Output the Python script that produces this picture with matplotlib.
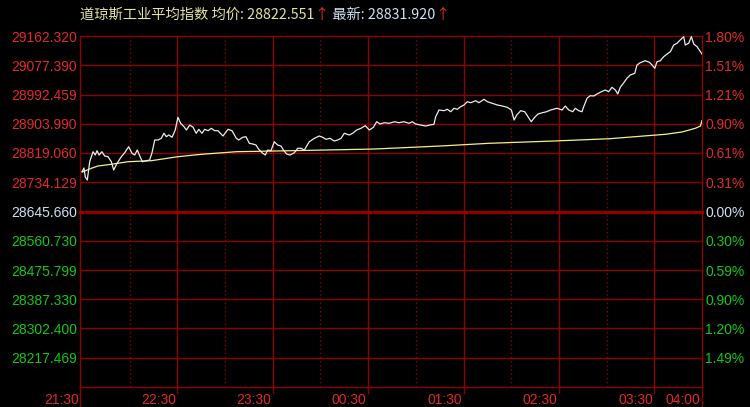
import numpy as np
import matplotlib.pyplot as plt

# minutes after 21:30 and index value (white line)
price_min = [0.1, 1.3, 2.1, 3.4, 4.9, 7.0, 8.4, 9.5, 10.8, 12.6, 14.3, 16.4, 18.5, 20.0, 22.1,
             24.8, 26.9, 29.4, 31.5, 33.2, 34.8, 36.4, 38.0, 40.5, 42.6, 44.1, 45.8, 47.9, 49.9,
             51.6, 53.1, 54.6, 56.7, 58.7, 60.4, 62.1, 64.2, 65.7, 67.8, 69.9, 71.9, 73.5, 75.5,
             77.2, 79.3, 81.4, 83.5, 85.6, 88.7, 91.9, 94.4, 97.1, 98.6, 101.1, 103.2, 105.3,
             107.4, 109.5, 111.2, 113.3, 115.3, 116.9, 118.9, 121.0, 123.1, 125.2, 126.7, 128.8,
             130.9, 133.6, 135.7, 137.8, 139.9, 143.0, 146.2, 149.3, 151.4, 153.5, 156.0, 158.7,
             160.9, 163.0, 165.0, 168.2, 170.3, 172.8, 175.5, 178.2, 180.8, 183.3, 185.4, 187.5,
             190.2, 193.3, 196.5, 199.4, 202.6, 205.7, 207.8, 209.9, 213.1, 216.2, 218.9, 221.4,
             222.5, 224.6, 227.7, 229.8, 232.0, 234.0, 236.1, 238.2, 240.3, 242.4, 244.5, 247.7,
             249.7, 252.9, 255.0, 258.1, 261.3, 264.4, 267.5, 270.1, 271.8, 273.5, 276.0, 278.5,
             281.2, 282.6, 284.8, 286.9, 289.6, 292.3, 294.8, 296.5, 298.8, 302.0, 304.0, 306.2,
             308.7, 310.3, 312.5, 314.5, 315.6, 317.7, 319.7, 321.9, 324.0, 326.7, 329.2, 331.3,
             333.4, 335.5, 337.0, 338.6, 340.8, 342.8, 344.9, 347.7, 349.1, 351.2, 354.3, 356.9,
             358.6, 360.3, 361.7, 363.8, 365.9, 368.0, 370.1, 372.2, 374.3, 376.3, 378.5, 379.5,
             381.6, 383.3, 384.8, 386.9, 389.0, 390.0]
price = [28762.8, 28773.7, 28747.2, 28738.4, 28792.3, 28821.7, 28812.0, 28824.6, 28812.0, 28821.7,
         28809.0, 28807.0, 28792.3, 28767.8, 28787.5, 28807.0, 28818.7, 28836.4, 28817.0, 28812.0,
         28826.7, 28809.0, 28792.3, 28795.2, 28797.3, 28818.7, 28856.1, 28856.1, 28861.1, 28875.9,
         28865.8, 28870.9, 28864.1, 28885.6, 28923.0, 28905.3, 28895.3, 28885.6, 28900.3, 28893.5,
         28875.9, 28887.6, 28875.9, 28887.6, 28883.5, 28890.6, 28883.5, 28883.5, 28867.9, 28887.6,
         28883.5, 28861.1, 28856.1, 28864.1, 28865.8, 28846.4, 28844.4, 28841.4, 28828.8, 28818.7,
         28812.0, 28826.7, 28824.6, 28851.1, 28841.4, 28838.5, 28826.7, 28814.9, 28812.0, 28818.7,
         28831.7, 28831.7, 28826.7, 28851.1, 28861.1, 28867.9, 28864.1, 28858.2, 28861.1, 28853.2,
         28856.1, 28861.1, 28875.9, 28870.9, 28875.9, 28885.6, 28890.6, 28898.2, 28885.6, 28893.5,
         28910.0, 28903.2, 28907.1, 28905.3, 28910.0, 28907.1, 28910.0, 28905.3, 28910.0, 28903.2,
         28900.3, 28897.3, 28900.3, 28902.4, 28924.7, 28944.5, 28942.4, 28946.5, 28939.4, 28949.5,
         28946.5, 28954.2, 28959.2, 28968.9, 28965.9, 28971.8, 28965.9, 28976.0, 28968.9, 28964.2,
         28959.2, 28956.2, 28952.4, 28944.5, 28915.0, 28929.7, 28942.4, 28939.4, 28920.0, 28910.0,
         28923.0, 28932.7, 28936.5, 28939.4, 28944.5, 28946.5, 28949.5, 28944.5, 28956.2, 28944.5,
         28939.4, 28949.5, 28942.4, 28939.4, 28954.2, 28978.9, 28986.5, 28985.7, 28991.6, 28998.3,
         29003.3, 28998.3, 29011.3, 29003.3, 28991.6, 29011.3, 29024.8, 29037.8, 29047.5, 29052.5,
         29076.9, 29083.7, 29089.6, 29084.9, 29076.9, 29067.2, 29086.6, 29089.6, 29101.4, 29109.3,
         29116.1, 29135.8, 29140.8, 29150.5, 29160.2, 29135.8, 29140.8, 29160.5, 29138.7, 29130.8,
         29116.1, 29109.3]

# average price (yellow line)
avg_min = [0.1, 1.8, 5.9, 10.1, 18.5, 29.0, 43.6, 60.4, 75.1, 97.1, 130.9, 183.9, 225.7, 256.0,
           296.9, 332.1, 353.3, 366.9, 377.4, 385.8, 389.0, 390.0]
avg_price = [28762.0, 28764.9, 28772.8, 28779.6, 28784.6, 28792.3, 28795.2, 28807.0, 28814.0,
             28821.7, 28824.6, 28829.6, 28838.5, 28846.4, 28853.2, 28860.0, 28867.9, 28872.9,
             28879.7, 28890.6, 28897.3, 28913.0]

prev_close = 28645.66
half_range = 516.66

left_labels = ['29162.320', '29077.390', '28992.459', '28903.990', '28819.060', '28734.129',
               '28645.660', '28560.730', '28475.799', '28387.330', '28302.400', '28217.469']
right_labels = ['1.80%', '1.51%', '1.21%', '0.90%', '0.61%', '0.31%',
                '0.00%', '0.30%', '0.59%', '0.90%', '1.20%', '1.49%']
time_labels = ['21:30', '22:30', '23:30', '00:30', '01:30', '02:30', '03:30', '04:00']
time_pos = [0, 60, 120, 180, 240, 300, 360, 390]
half_hours = [30, 90, 150, 210, 270, 330]

RED = '#e02a2a'
GREEN = '#12c812'
PALE = '#cfe0f2'
GRID = '#8e0000'
NUM_FONT = 'Liberation Sans'

fig = plt.figure(figsize=(7.5, 4.07), dpi=100, facecolor='black')
ax = fig.add_axes([80 / 750, 20 / 407, 622 / 750, 351 / 407])
ax.set_facecolor('black')
ax.set_xlim(-1.2, 390)
ax.set_ylim(prev_close - half_range, prev_close + half_range)
ax.set_xticks([])
ax.set_yticks([])
for s in ax.spines.values():
    s.set_visible(False)

levels = np.linspace(prev_close + half_range, prev_close - half_range, 13)

# horizontal grid
for i, lv in enumerate(levels):
    ax.axhline(lv, color=GRID, lw=2.4 if i == 6 else 1.0, zorder=1, clip_on=False)

# vertical grid
for m in time_pos[1:-1]:
    ax.axvline(m, ymin=-6 / 351, ymax=1, color=GRID, lw=1.0, zorder=1, clip_on=False)
for m in half_hours:
    ax.axvline(m, color=GRID, lw=1.0, ls=(0, (1, 2)), zorder=1)
for xa in (0, 1):
    ax.plot([xa, xa], [-20 / 351, 1], transform=ax.transAxes, color=GRID, lw=1.0,
            clip_on=False, zorder=1)

ax.plot(avg_min, avg_price, color='#f2f288', lw=0.9, zorder=3)
ax.plot(price_min, price, color='#ececec', lw=0.9, zorder=4)

# price labels (left) and percent labels (right)
ytr = ax.get_yaxis_transform()
for i, (ll, rl) in enumerate(zip(left_labels, right_labels)):
    col = RED if i < 6 else (PALE if i == 6 else GREEN)
    ax.text(-3 / 622, levels[i], ll, transform=ytr, ha='right', va='center_baseline',
            color=col, fontsize=10, family=NUM_FONT)
    ax.text(1 + 3 / 622, levels[i], rl, transform=ytr, ha='left', va='center_baseline',
            color=col, fontsize=10, family=NUM_FONT)

# time labels
xtr = ax.get_xaxis_transform()
for m, lab in zip(time_pos, time_labels):
    xm = -1.2 if m == 0 else m
    ax.annotate(lab, (xm, -11 / 351), xycoords=xtr, xytext=(-1, 0), textcoords='offset points',
                ha='right', va='center_baseline', color=RED, fontsize=10, family=NUM_FONT,
                annotation_clip=False)

# title made of coloured pieces
title_parts = [('道琼斯工业平均指数 均价: 28822.551', '#e4e4a4'),
               ('↑', RED),
               (' 最新: 28831.920', PALE),
               ('↑', RED)]
renderer = fig.canvas.get_renderer()
x0 = 80 / 750
for txt, col in title_parts:
    t = fig.text(x0, (407 - 18.5) / 407, txt, color=col, fontsize=10.3,
                 family=['Noto Sans CJK SC', 'DejaVu Sans'], va='baseline', ha='left')
    x0 = t.get_window_extent(renderer).x1 / 750

fig.savefig('out.png', dpi=100, facecolor='black')
